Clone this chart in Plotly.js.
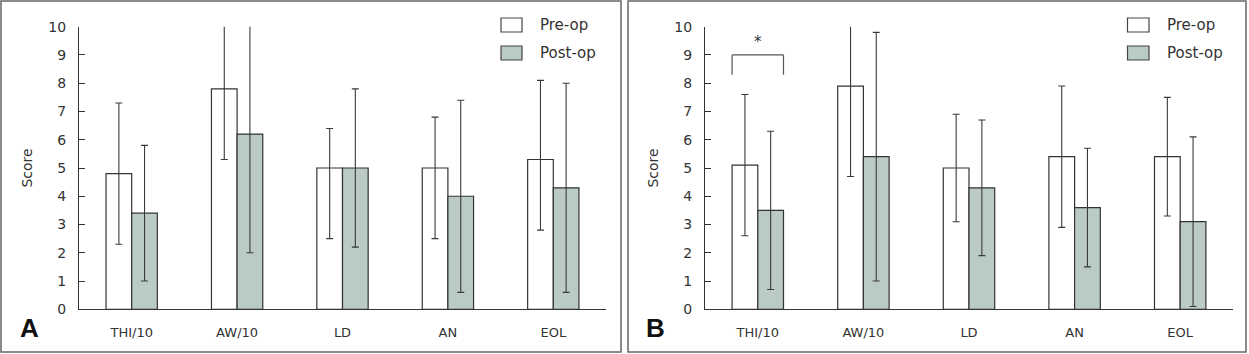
<!DOCTYPE html>
<html>
<head>
<meta charset="utf-8">
<script src="https://cdn.plot.ly/plotly-3.0.1.min.js"></script>
<style>html,body{margin:0;padding:0;background:#fff;}#chart{width:1249px;height:354px;}</style>
</head>
<body>
<div id="chart"></div>
<script>
// ---- Data ----
const categories = ["THI/10", "AW/10", "LD", "AN", "EOL"];
const seriesNames = ["Pre-op", "Post-op"];

// Panel A
const aPre = [4.8, 7.8, 5.0, 5.0, 5.3];
const aPreErrPlus = [2.5, 2.5, 1.4, 1.8, 2.8];
const aPreErrMinus = [2.5, 2.5, 2.5, 2.5, 2.5];
const aPost = [3.4, 6.2, 5.0, 4.0, 4.3];
const aPostErrPlus = [2.4, 4.2, 2.8, 3.4, 3.7];
const aPostErrMinus = [2.4, 4.2, 2.8, 3.4, 3.7];

// Panel B
const bPre = [5.1, 7.9, 5.0, 5.4, 5.4];
const bPreErrPlus = [2.5, 3.2, 1.9, 2.5, 2.1];
const bPreErrMinus = [2.5, 3.2, 1.9, 2.5, 2.1];
const bPost = [3.5, 5.4, 4.3, 3.6, 3.1];
const bPostErrPlus = [2.8, 4.4, 2.4, 2.1, 3.0];
const bPostErrMinus = [2.8, 4.4, 2.4, 2.1, 3.0];

const yTickVals = [0, 1, 2, 3, 4, 5, 6, 7, 8, 9, 10];
const panelLabels = ["A", "B"];
const sigMark = "*";
const sigBracketY = [9.0, 8.3];

// ---- Layout helpers ----
const W = 1249, H = 354;
const px = x => x / W;
const py = y => 1 - y / H;
const FONT = "DejaVu Sans, Arial, sans-serif";
const EDGE = "#333333";
const POST_FILL = "#b9cbc2";
const BAR_HALF = 0.2435;

function barTrace(name, y, plus, minus, fill, xa, ya) {
  return {
    type: "bar", name: name, x: categories, y: y,
    xaxis: xa, yaxis: ya, showlegend: false,
    marker: {color: fill, line: {color: EDGE, width: 1.2}},
    error_y: {type: "data", symmetric: false, array: plus, arrayminus: minus,
              color: "#3a3a3a", thickness: 1.1, width: 3.5},
    cliponaxis: true, hoverinfo: "x+y"
  };
}

const data = [
  barTrace(seriesNames[0], aPre, aPreErrPlus, aPreErrMinus, "#ffffff", "x", "y"),
  barTrace(seriesNames[1], aPost, aPostErrPlus, aPostErrMinus, POST_FILL, "x", "y"),
  barTrace(seriesNames[0], bPre, bPreErrPlus, bPreErrMinus, "#ffffff", "x2", "y2"),
  barTrace(seriesNames[1], bPost, bPostErrPlus, bPostErrMinus, POST_FILL, "x2", "y2")
];

function xAxis(domain, anchor) {
  return {
    domain: domain, anchor: anchor, type: "category", range: [-0.5, 4.5],
    showline: true, linecolor: EDGE, linewidth: 1, ticks: "", showgrid: false,
    zeroline: false, fixedrange: true, automargin: false,
    tickfont: {family: FONT, size: 13, color: "#333"}, ticklabelstandoff: 11
  };
}
function yAxis(domain, anchor) {
  return {
    domain: domain, anchor: anchor, range: [0, 10], tickvals: yTickVals,
    showline: true, linecolor: EDGE, linewidth: 1, ticks: "inside", ticklen: 6,
    tickcolor: EDGE, tickwidth: 1, showgrid: false, zeroline: false,
    fixedrange: true, automargin: false, ticklabelstandoff: 9,
    tickfont: {family: FONT, size: 14, color: "#333"},
    title: {text: "Score", font: {family: FONT, size: 14, color: "#333"}, standoff: 12}
  };
}

const yDom = [py(309.3), py(26.7)];
const layout = {
  width: W, height: H,
  margin: {l: 0, r: 0, t: 0, b: 0, autoexpand: false},
  paper_bgcolor: "#ffffff", plot_bgcolor: "rgba(0,0,0,0)",
  barmode: "group", bargap: 0.513, bargroupgap: 0,
  showlegend: false,
  xaxis: xAxis([px(79), px(606)], "y"),
  yaxis: yAxis(yDom, "x"),
  xaxis2: xAxis([px(705), px(1233)], "y2"),
  yaxis2: yAxis(yDom, "x2"),
  shapes: [], annotations: []
};

// Panel borders
[[1, 621], [628, 1246]].forEach(([x0, x1]) => {
  layout.shapes.push({type: "rect", xref: "paper", yref: "paper",
    x0: px(x0), x1: px(x1), y0: py(352), y1: py(1),
    line: {color: "#666", width: 1.5}, fillcolor: "rgba(0,0,0,0)"});
});

// Legends
[[501, 522, 537.5], [1127.5, 1149, 1165]].forEach(([bx0, bx1, tx]) => {
  [[18, 32, "#ffffff", seriesNames[0]], [46, 60, POST_FILL, seriesNames[1]]].forEach(([y0, y1, fill, name]) => {
    layout.shapes.push({type: "rect", xref: "paper", yref: "paper",
      x0: px(bx0), x1: px(bx1), y0: py(y1), y1: py(y0),
      line: {color: "#444", width: 1.2}, fillcolor: fill});
    layout.annotations.push({xref: "paper", yref: "paper", x: px(tx), y: py((y0 + y1) / 2),
      xanchor: "left", yanchor: "middle", showarrow: false, text: name,
      font: {family: FONT, size: 15, color: "#333"}});
  });
});

// Panel labels
[[29, panelLabels[0]], [655, panelLabels[1]]].forEach(([x, t]) => {
  layout.annotations.push({xref: "paper", yref: "paper", x: px(x), y: py(328),
    xanchor: "center", yanchor: "middle", showarrow: false, text: "<b>" + t + "</b>",
    font: {family: "Liberation Sans, Arial, sans-serif", size: 26, color: "#111"}});
});

// Significance bracket on B, THI/10
const bl = {color: "#555", width: 1.2};
layout.shapes.push({type: "line", xref: "x2", yref: "y2", x0: -BAR_HALF, x1: BAR_HALF, y0: sigBracketY[0], y1: sigBracketY[0], line: bl});
layout.shapes.push({type: "line", xref: "x2", yref: "y2", x0: -BAR_HALF, x1: -BAR_HALF, y0: sigBracketY[0], y1: sigBracketY[1], line: bl});
layout.shapes.push({type: "line", xref: "x2", yref: "y2", x0: BAR_HALF, x1: BAR_HALF, y0: sigBracketY[0], y1: sigBracketY[1], line: bl});
layout.annotations.push({xref: "x2", yref: "y2", x: 0, y: sigBracketY[0], yshift: 13,
  xanchor: "center", yanchor: "middle", showarrow: false, text: sigMark,
  font: {family: FONT, size: 15, color: "#333"}});

Plotly.newPlot("chart", data, layout, {displayModeBar: false, staticPlot: true});
</script>
</body>
</html>
